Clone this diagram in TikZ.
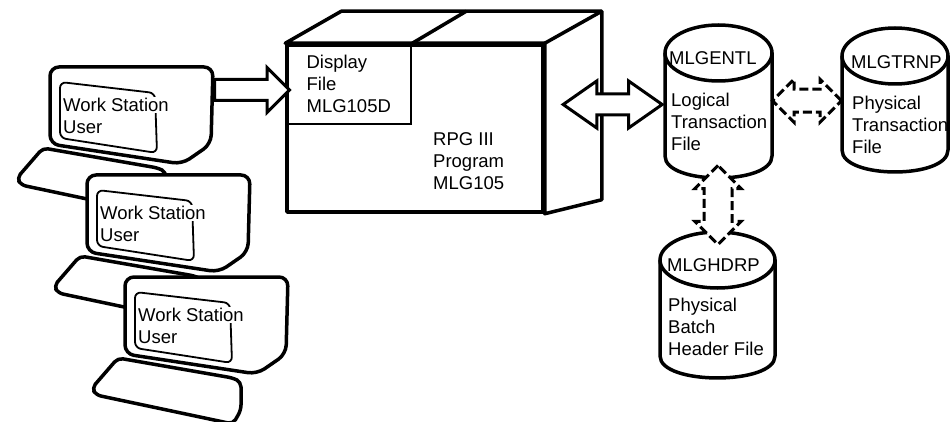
\documentclass[tikz,border=0pt]{standalone}
\usepackage{fontspec}
\setmainfont{Liberation Sans}
\usetikzlibrary{shapes.arrows,shapes.geometric,calc,positioning}

\tikzset{
  wall/.style={line width=3.5pt, line join=round},
  txt/.style={font=\fontsize{18.5}{22}\selectfont, align=left, inner sep=0pt},
  hollow/.style={draw, fill=white, line width=3pt, inner xsep=0pt, inner ysep=9pt},
  gap/.style={hollow, dash pattern=on 9pt off 4pt},
  workstation/.pic={
    \draw[wall, rounded corners=5pt, fill=white] (-7,81) -- (-33,111) -- (-29,118) -- (108,147) -- (116,133) -- (116,105) -- (108,101) -- cycle; % bàn phím
    \draw[wall, rounded corners=9pt, fill=white] (0,77) -- (0,0) -- (163,0) -- (161,77) -- (132,97) -- cycle; % màn hình
    \draw[line width=1.8pt, rounded corners=6pt] (10,15) -- (105,26) -- (107,86) -- (10,71) -- cycle; % khung chữ
    \node[txt, fill=white, inner sep=1pt, anchor=west] (-top) at (12,38) {Work Station};
    \node[txt, anchor=west] (-user) at (13,60) {User};
    \coordinate (-out) at (163,23);
  }
}

% #1 tên, #2 trái, #3 phải, #4 đỉnh, #5 đáy
\newcommand{\tep}[5]{%
  \pgfmathsetmacro\tepyc{#4+28}% tâm nắp
  \pgfmathsetmacro\tepyb{#5-22}% tâm đáy
  \draw[wall, fill=white] (#2,\tepyc) -- (#2,\tepyb) .. controls +(0,29.3) and +(0,29.3) .. (#3,\tepyb)
    -- (#3,\tepyc) -- cycle;
  \node[draw, wall, fill=white, ellipse, inner sep=0pt, minimum width={(#3-#2)*1pt}, minimum height=56pt] (#1-nap) at ({(#2+#3)/2},\tepyc) {}; % nắp
  \node[inner sep=0pt, minimum width={(#3-#2)*1pt}, minimum height={(#5-#4)*1pt}] (#1) at ({(#2+#3)/2},{(#4+#5)/2}) {};
}

\begin{document}
\begin{tikzpicture}[x=1pt, y=-1pt]
\useasboundingbox (0,0) rectangle (950,422);

% chương trình
\node[draw, wall, minimum width=256pt, minimum height=167pt, inner sep=0pt] (prog) at (415,128.5) {};
\draw[wall, fill=white] (prog.north west) -- ++(56,-32) -- ([shift={(57,-32)}]prog.north east)
  -- ([shift={(57,-14)}]prog.south east) -- (prog.south east) -- (prog.north east) -- cycle;
\draw[wall] (prog.north east) -- ++(57,-32);
\node[draw, txt, line width=2pt, minimum width=125pt, minimum height=80pt, anchor=north west] (disp) at (prog.north west) {Display\\File\\MLG105D};
\draw[wall] (disp.north east) -- ++(54,-32);
\node[txt, anchor=west] (progtxt) at (433,161) {RPG III\\Program\\MLG105};

% trạm làm việc
\pic (ws1) at (50,67) {workstation};
\pic (ws2) at (87,175) {workstation};
\pic (ws3) at (125,277) {workstation};
\node[hollow, single arrow, single arrow head extend=12pt, minimum height=75pt, anchor=west] (vao) at (ws1-out) {};

% các tệp
\tep{entl}{665}{772}{25}{178}
\tep{trnp}{842}{948}{28}{172}
\tep{hdrp}{660}{775}{232}{378}
\node[txt, anchor=west] (entlname) at (669,58) {MLGENTL};
\node[txt, anchor=west] (entltxt) at (671,122) {Logical\\Transaction\\File};
\node[txt, anchor=west] (trnpname) at (851,62) {MLGTRNP};
\node[txt, anchor=west] (trnptxt) at (852,125) {Physical\\Transaction\\File};
\node[txt, anchor=west] (hdrpname) at (667,265) {MLGHDRP};
\node[txt, anchor=west] (hdrptxt) at (668,327) {Physical\\Batch\\Header File};

% mũi tên
\node[hollow, double arrow, double arrow head extend=13pt, double arrow tip angle=70, minimum height=99pt, anchor=east] (doc) at ([yshift=-3pt]entl.west) {};
\node[gap, double arrow, inner ysep=10pt, double arrow head extend=10pt, minimum height=69pt] (ngang) at ($(entl.east)!.5!(trnp.west)$) {};
\node[gap, double arrow, rotate=90, inner ysep=12.5pt, double arrow head extend=9pt, minimum height=79pt] (dung) at ($(entl.south)!.5!(hdrp.north)$) {};
\end{tikzpicture}
\end{document}
